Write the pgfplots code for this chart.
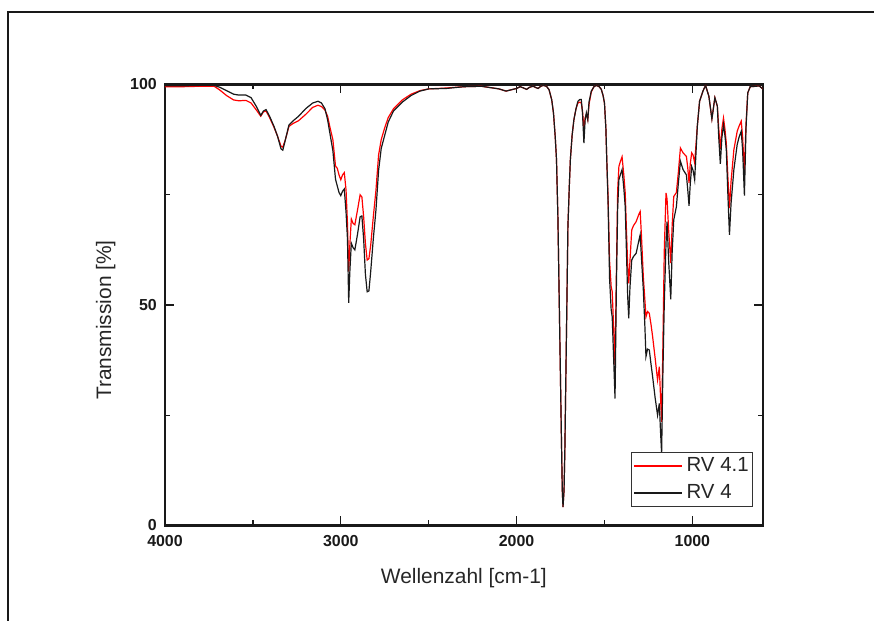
\documentclass[border=0pt]{standalone}
\usepackage{fontspec}
\setmainfont{Liberation Sans}
\usepackage{pgfplots}
\usepackage{pgfplotstable}
\pgfplotsset{compat=1.18}
\pgfplotstableread{
w R B
4000 99.5 99.7
3900 99.5 99.7
3800 99.6 99.8
3720 99.6 99.8
3690 98.8 99.4
3650 97.5 98.6
3610 96.5 97.8
3580 96.3 97.6
3540 96.4 97.6
3510 95.8 97.0
3480 94.2 95.0
3455 92.8 93.0
3440 93.8 94.0
3425 94.0 94.3
3405 92.5 92.8
3380 90.3 90.5
3360 88.3 88.3
3340 86.0 85.4
3330 85.8 85.1
3315 87.5 87.5
3295 90.5 90.8
3270 91.2 91.8
3240 91.8 92.8
3200 93.2 94.5
3160 94.8 95.8
3130 95.3 96.2
3110 95.0 95.8
3090 94.2 94.5
3075 92.8 92.0
3060 90.0 88.5
3045 87.5 85.0
3030 81.5 78.5
3020 81.0 77.0
3010 79.5 75.5
3000 78.4 74.8
2990 79.5 75.8
2980 80.0 76.3
2970 76.0 71.0
2962 68.5 65.0
2955 57.6 50.5
2948 64.0 58.0
2940 69.5 64.0
2930 68.5 63.0
2920 68.2 62.5
2905 71.5 66.0
2890 75.0 70.0
2880 74.5 70.2
2870 70.0 65.0
2860 64.0 57.0
2850 60.2 53.0
2840 60.5 53.2
2830 63.5 57.5
2815 70.0 65.0
2800 76.0 71.5
2785 84.0 80.5
2770 87.5 85.5
2750 90.2 88.5
2730 92.5 91.5
2700 94.5 94.0
2650 96.5 96.0
2600 97.8 97.5
2550 98.6 98.5
2500 99.0 99.0
2400 99.2 99.1
2300 99.5 99.5
2200 99.6 99.6
2100 99.0 99.0
2060 98.5 98.5
2030 98.8 98.8
2000 99.1 99.1
1980 99.5 99.5
1960 99.2 99.2
1943 98.9 98.9
1925 99.4 99.4
1906 99.6 99.6
1890 99.3 99.3
1878 99.1 99.1
1862 99.6 99.6
1849 99.8 99.8
1830 99.6 99.6
1815 98.8 98.8
1800 96.5 96.5
1790 93.5 93.5
1780 88 88
1773 83 83
1765 70 70
1755 45 45
1745 20 20
1740 8 8
1736 4.2 4.2
1730 8 8
1725 18 18
1721 30 30
1714 50 50
1708 67.8 67.8
1700 77 77
1694 83 83
1684 88.5 88.5
1674 92 92
1662 94.5 94.5
1651 95.8 96.2
1640 96.0 96.6
1632 95.8 96.6
1625 94.0 93.5
1617 89.8 86.7
1610 92.5 92.0
1603 93.2 93.6
1595 92.0 92.0
1588 95.5 96.0
1575 98.3 98.5
1560 99.5 99.5
1547 99.8 99.8
1530 99.5 99.5
1518 98.9 98.9
1508 97.5 97.5
1500 95.8 95.8
1492 90 90
1487 83 83
1480 75 74
1471 60 56
1462 54.2 49
1456 53 47.3
1448 45 38
1440 36.4 28.8
1432 58 55
1425 76 72
1418 81.4 78.4
1410 82.5 79.5
1400 83.6 80.7
1390 79.5 76.5
1382 75.4 72.3
1375 67 62
1368 59 52
1362 54.9 47
1355 60 54
1345 67 60.2
1335 68 61
1320 68.9 61.7
1305 70.5 64.5
1297 71.2 65.9
1290 66 61
1279 56.4 53.4
1270 51 45
1264 47.3 38.3
1255 48.5 40
1245 48.1 39.8
1235 45.5 36.5
1226 42.8 33.7
1212 38 29
1198 33 25
1188 36 27.7
1182 30 22
1175 23.5 16.3
1168 40 34
1160 62 50
1150 75.4 64
1144 74 68.9
1135 67 60
1123 59.5 51.3
1115 68 62
1106 74.6 69.3
1091 75.5 72.3
1080 80 77.5
1068 85.6 82.6
1053 84.5 80.7
1034 83.7 79.5
1026 81 76
1019 77.7 72.5
1012 82 77.5
1004 84.5 81.4
996 84 80.5
987 82.2 78.4
972 90.5 90.5
959 96.2 96.2
940 98.5 98.5
925 99.8 99.8
906 97.3 97.3
889 92.2 92.2
872 97.0 97.0
858 95.1 95.1
850 90 88
841 85.4 82
832 90 88
823 92.4 90.9
815 90 88.5
807 86.7 85.2
798 79 75
789 72 65.9
780 78 73
764 85.2 80.7
745 89.4 86.4
735 90.5 88
722 91.7 89.4
714 88 85
704 79.9 74.8
695 91 90
685 98.1 98.1
671 99.5 99.5
637 99.6 99.6
620 99.7 99.7
600 99.0 99.0
}\spectrum
\begin{document}
\begin{tikzpicture}
\useasboundingbox (0,0) rectangle (874bp,621bp);
\draw[line width=2.4bp, black!90] (8bp,0) -- (8bp,609bp) -- (880bp,609bp);
\begin{axis}[
  at={(165bp,95.5bp)}, anchor=south west,
  scale only axis, width=597.7bp, height=441bp,
  xmin=600, xmax=4000, x dir=reverse,
  ymin=0, ymax=100,
  xtick={1000,2000,3000,4000},
  minor xtick={1500,2500,3500},
  ytick={0,50,100},
  minor ytick={25,75},
  scaled ticks=false,
  /pgf/number format/1000 sep={},
  /pgf/number format/assume math mode=true,
  tick align=inside,
  major tick length=9bp, minor tick length=5bp,
  every tick/.style={line width=1.4bp, black!90},
  axis line style={line width=2.2bp, black!90},
  ticklabel style={font=\fontsize{16}{19}\selectfont\bfseries, text=black!90},
  xticklabel style={anchor=base, yshift=-21.5bp, inner sep=0pt},
  yticklabel style={anchor=east, xshift=-8bp, inner sep=0pt},
  xlabel={Wellenzahl [cm-1]},
  ylabel={Transmission [\%]},
  label style={font=\fontsize{21}{25}\selectfont, text=black!85},
  xlabel style={at={(axis description cs:0.5,-0.119)}, anchor=center},
  ylabel style={at={(axis description cs:-0.099,0.466)}, anchor=center, rotate=0},
  legend style={at={(0.984,0.042)}, anchor=south east, draw=black!80, line width=0.9bp,
    inner xsep=2bp, inner ysep=0bp, row sep=0bp, column sep=2bp,
    font=\fontsize{20.5}{24}\selectfont,
    nodes={inner xsep=2bp, inner ysep=3.75bp, text height=15bp, text depth=4.5bp, text=black!85}},
  legend cell align=left,
  legend image code/.code={\draw[#1] (0bp,0bp) -- (48bp,0bp);},
]
\addplot[color=red, line width=1.2bp] table[x=w, y=R] {\spectrum};
\addlegendentry{RV 4.1}
\addplot[color=black!90, line width=1.2bp] table[x=w, y=B] {\spectrum};
\addlegendentry{RV 4}
\end{axis}
\end{tikzpicture}
\end{document}
